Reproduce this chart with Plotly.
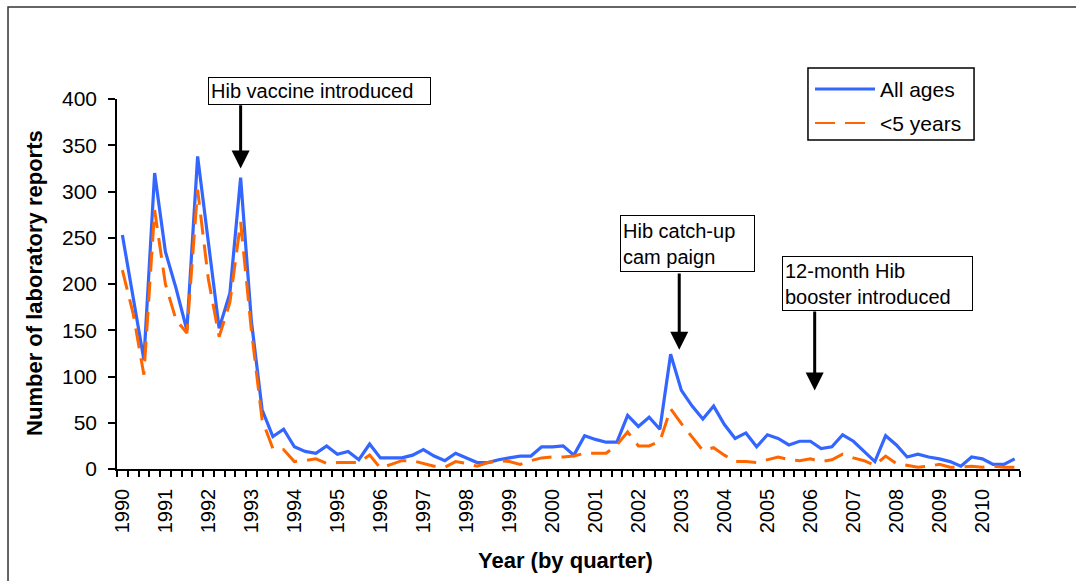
import plotly.graph_objects as go

# Quarterly laboratory reports, 1990 Q1 – 2010 Q4
quarters = list(range(84))
all_ages = [253, 186, 118, 320, 235, 195, 150, 338, 248, 152, 190, 315,
            160, 64, 35, 43, 24, 19, 17, 25, 16, 19, 10, 27,
            12, 12, 12, 15, 21, 14, 9, 17, 12, 7, 7, 10,
            12, 14, 14, 24, 24, 25, 15, 36, 32, 29, 29, 58,
            46, 56, 43, 124, 85, 68, 54, 68, 48, 33, 39, 24,
            37, 33, 26, 30, 30, 22, 24, 37, 30, 19, 8, 36,
            26, 13, 16, 13, 11, 8, 3, 13, 11, 5, 5, 11]
under_five = [215, 168, 102, 280, 200, 161, 147, 302, 205, 143, 180, 267,
              150, 53, 22, 21, 8, 9, 11, 6, 7, 7, 7, 15,
              1, 5, 9, 9, 6, 3, 2, 8, 6, 3, 7, 9,
              8, 5, 9, 12, 13, 13, 14, 17, 17, 17, 26, 40,
              25, 25, 30, 65, 49, 35, 20, 23, 15, 8, 8, 7,
              10, 13, 10, 9, 11, 8, 10, 16, 12, 9, 4, 14,
              6, 4, 2, 3, 5, 2, 2, 3, 2, 3, 2, 2]
year_ticks = list(range(0, 84, 4))
year_labels = [str(1990 + k) for k in range(21)]
y_ticks = list(range(0, 401, 50))

BLUE = "#3366FF"
ORANGE = "#FF6600"
DASH = "20px,10px"
FONT = "Liberation Sans, Arial, sans-serif"

fig = go.Figure()
fig.add_trace(go.Scatter(x=quarters, y=all_ages, mode="lines", name="All ages",
                         line=dict(color=BLUE, width=3.2)))
fig.add_trace(go.Scatter(x=quarters, y=under_five, mode="lines", name="<5 years",
                         line=dict(color=ORANGE, width=3, dash=DASH)))

fig.update_layout(
    width=1076, height=581,
    margin=dict(l=117, r=56, t=99, b=112),
    paper_bgcolor="white", plot_bgcolor="white",
    showlegend=False,
    font=dict(family=FONT, color="black", size=20),
)
fig.update_xaxes(
    range=[-0.5, 83.5], tickmode="array", tickvals=year_ticks, ticktext=year_labels,
    tickangle=-90, ticks="outside", ticklen=0, tickfont=dict(size=20),
    ticklabelstandoff=10,
    showline=True, linecolor="black", linewidth=1.5, showgrid=False, zeroline=False,
    minor=dict(tickmode="linear", tick0=-0.5, dtick=1, ticks="outside",
               ticklen=6, tickcolor="black", tickwidth=1.5, showgrid=False),
)
fig.update_yaxes(
    range=[0, 400], tickmode="array", tickvals=y_ticks,
    ticks="outside", ticklen=7, tickcolor="black", tickwidth=1.5,
    tickfont=dict(size=21), ticklabelstandoff=7,
    showline=True, linecolor="black", linewidth=1.5, showgrid=False, zeroline=False,
)

# Axis titles
fig.add_annotation(text="<b>Year (by quarter)</b>", xref="paper", yref="paper",
                   x=0.497, y=-0.246, xanchor="center", yanchor="middle",
                   showarrow=False, font=dict(size=22))
fig.add_annotation(text="<b>Number of laboratory reports</b>", xref="paper", yref="paper",
                   x=-0.0908, y=0.503, xanchor="center", yanchor="middle",
                   textangle=-90, showarrow=False, font=dict(size=22))

# Event labels
boxes = [
    ("Hib vaccine introduced", 0.1008, 1.0595, 217, 22),
    ("Hib catch-up<br>cam paign", 0.557, 0.6865, 129, 51),
    ("12-month Hib<br>booster introduced", 0.7364, 0.5757, 185, 49),
]
for txt, bx, by, w, h in boxes:
    fig.add_annotation(text=txt, xref="paper", yref="paper", x=bx, y=by,
                       xanchor="left", yanchor="top", align="left", valign="middle",
                       width=w, height=h, showarrow=False, bgcolor="white",
                       bordercolor="black", borderwidth=1, borderpad=2,
                       font=dict(size=20))

arrows = [(11, 395, 325), (51.8, 213, 129), (64.4, 172, 85)]
for ax_, y_tail, y_tip in arrows:
    fig.add_annotation(text="", x=ax_, y=y_tip, ax=ax_, ay=y_tail,
                       xref="x", yref="y", axref="x", ayref="y",
                       showarrow=True, arrowhead=2, arrowsize=1.2,
                       arrowwidth=3, arrowcolor="black")

# Legend box
fig.add_shape(type="rect", xref="paper", yref="paper", x0=0.7652, x1=0.9491,
              y0=0.8892, y1=1.0838, line=dict(color="black", width=1.5),
              fillcolor="white", layer="above")
fig.add_shape(type="line", xref="paper", yref="paper", x0=0.773, x1=0.8394,
              y0=1.027, y1=1.027, line=dict(color=BLUE, width=3), layer="above")
fig.add_shape(type="line", xref="paper", yref="paper", x0=0.773, x1=0.8394,
              y0=0.9351, y1=0.9351, line=dict(color=ORANGE, width=2, dash=DASH),
              layer="above")
fig.add_annotation(text="All ages", xref="paper", yref="paper", x=0.8427, y=1.027,
                   xanchor="left", yanchor="middle", showarrow=False, font=dict(size=21))
fig.add_annotation(text="&lt;5 years", xref="paper", yref="paper", x=0.8427, y=0.9351,
                   xanchor="left", yanchor="middle", showarrow=False, font=dict(size=21))

# Outer frame
fig.add_shape(type="rect", xref="paper", yref="paper", x0=-0.1207, x1=1.3,
              y0=-0.6, y1=1.2486, line=dict(color="#333333", width=1.5), layer="below")

fig.write_html("out.html")
